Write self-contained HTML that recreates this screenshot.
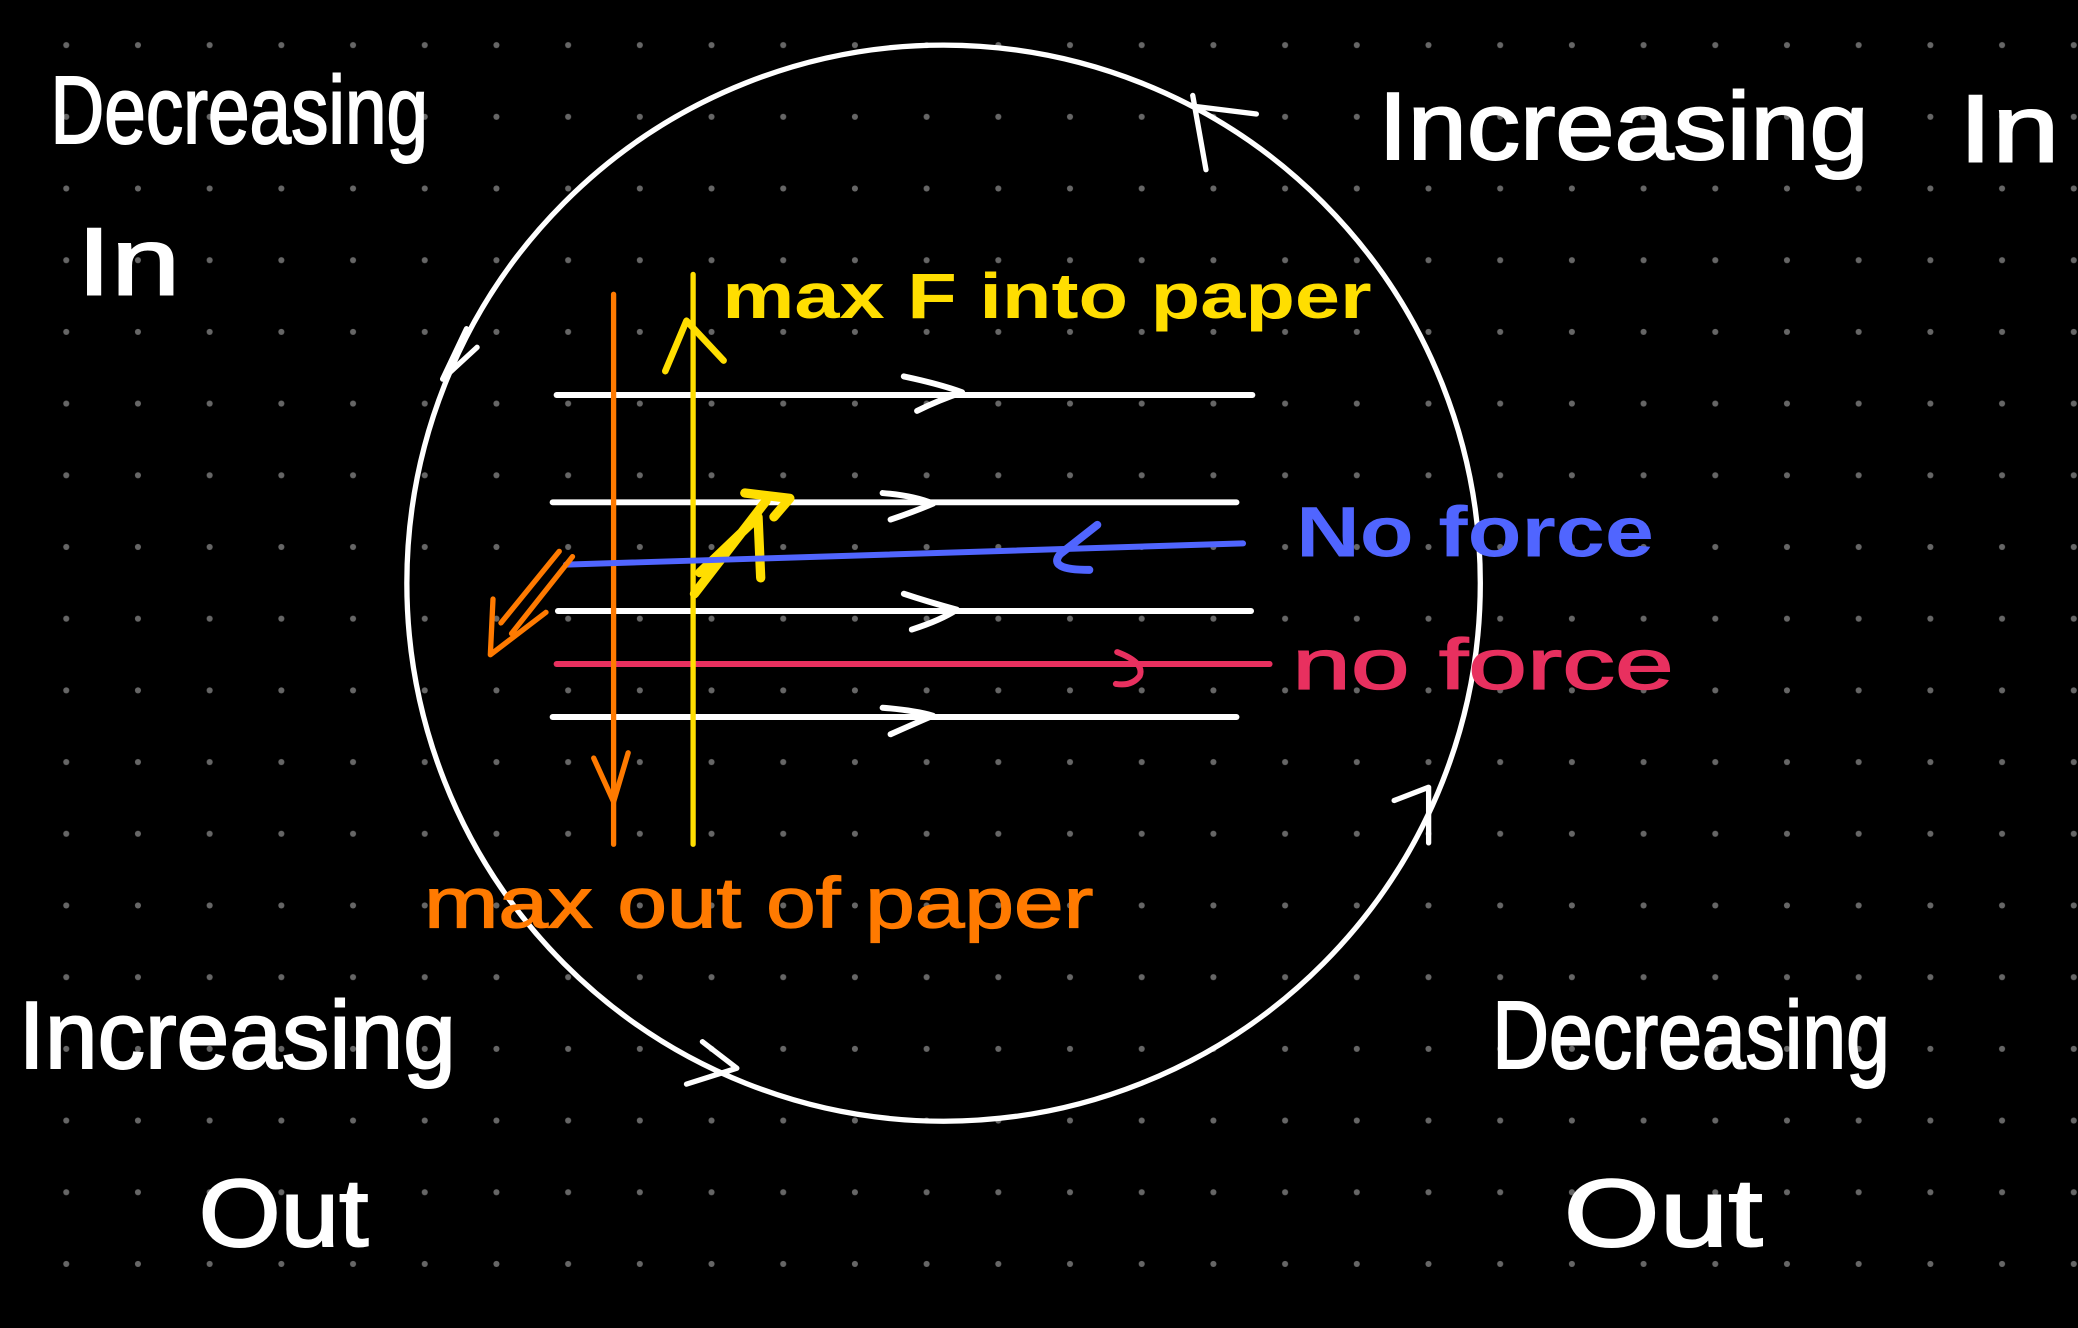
<!DOCTYPE html>
<html><head><meta charset="utf-8"><style>
html,body{margin:0;padding:0;background:#000;}
svg{display:block}
text{font-family:"Liberation Sans",sans-serif;}
</style></head><body>
<svg width="2078" height="1328" viewBox="0 0 1568 1002" xmlns="http://www.w3.org/2000/svg">
<defs><pattern id="d" x="23" y="7" width="54.1" height="54.1" patternUnits="userSpaceOnUse"><circle cx="27" cy="27" r="2.3" fill="#666"/></pattern></defs>
<rect width="1568" height="1002" fill="#000"/>
<rect width="1568" height="1002" fill="url(#d)"/>
<g fill="none" stroke-linecap="round" stroke-linejoin="round">
<ellipse cx="712" cy="440" rx="405" ry="406" stroke="#fff" stroke-width="4"/>
<path d="M900 72 L910 128 M900 80 L948 86" stroke="#fff" stroke-width="4"/>
<path d="M352 248 L334 286 L360 262" stroke="#fff" stroke-width="4"/>
<path d="M518 818 L556 806 L530 786" stroke="#fff" stroke-width="4"/>
<path d="M1052 604 L1078 594 L1078 636" stroke="#fff" stroke-width="4"/>
<g stroke="#fff" stroke-width="4.5">
<line x1="420" y1="298" x2="945" y2="298"/><path d="M682 284 Q710 290 726 296 Q708 302 692 310"/>
<line x1="417" y1="379" x2="933" y2="379"/><path d="M666 372 Q690 374 704 380 Q690 386 672 392"/>
<line x1="421" y1="461" x2="944" y2="461"/><path d="M682 448 Q700 454 722 460 Q710 468 688 475"/>
<line x1="417" y1="541" x2="933" y2="541"/><path d="M666 534 Q690 536 704 540 Q690 546 672 554"/>
</g>
<line x1="420" y1="501" x2="958" y2="501" stroke="#e8305f" stroke-width="4.5"/>
<path d="M843 492 Q864 500 860 510 Q854 518 842 516" stroke="#e8305f" stroke-width="4.5"/>
<line x1="463" y1="222" x2="463" y2="637" stroke="#ff7a00" stroke-width="4"/>
<path d="M448 572 L463 605 L474 568" stroke="#ff7a00" stroke-width="4"/>
<line x1="523" y1="207" x2="523" y2="637" stroke="#ffde00" stroke-width="4"/>
<path d="M502 280 L518 242 L546 272" stroke="#ffde00" stroke-width="5"/>
<path d="M524 448 L578 378 M528 432 L572 390 L574 436 M562 372 L596 376 L584 390" stroke="#ffde00" stroke-width="7"/>
<line x1="427" y1="426" x2="938" y2="410" stroke="#5065ff" stroke-width="4.5"/>
<path d="M828 396 L800 418 Q790 430 822 430" stroke="#5065ff" stroke-width="6"/>
<path d="M432 420 L386 478 M422 416 L378 470 M372 452 L370 494 L412 462" stroke="#ff7a00" stroke-width="4"/>
</g>
<g font-size="72" fill="#fff" stroke="#fff" stroke-width="1.5">
<text x="38" y="108" textLength="285" lengthAdjust="spacingAndGlyphs">Decreasing</text>
<text x="58" y="222" textLength="78" lengthAdjust="spacingAndGlyphs">In</text>
<text x="1040" y="120" textLength="370" lengthAdjust="spacingAndGlyphs">Increasing</text>
<text x="1478" y="122" textLength="76" lengthAdjust="spacingAndGlyphs">In</text>
<text x="14" y="806" textLength="330" lengthAdjust="spacingAndGlyphs">Increasing</text>
<text x="150" y="940" textLength="128" lengthAdjust="spacingAndGlyphs">Out</text>
<text x="1126" y="806" textLength="300" lengthAdjust="spacingAndGlyphs">Decreasing</text>
<text x="1180" y="940" textLength="150" lengthAdjust="spacingAndGlyphs">Out</text>
</g>
<text x="545" y="240" font-size="48" fill="#ffde00" font-weight="bold" textLength="490" lengthAdjust="spacingAndGlyphs">max F into paper</text>
<text x="978" y="420" font-size="54" fill="#5065ff" font-weight="bold" textLength="270" lengthAdjust="spacingAndGlyphs">No  force</text>
<text x="975" y="520" font-size="54" fill="#e8305f" stroke="#e8305f" stroke-width="1" textLength="288" lengthAdjust="spacingAndGlyphs">no  force</text>
<text x="320" y="700" font-size="54" fill="#ff7a00" stroke="#ff7a00" stroke-width="1" textLength="505" lengthAdjust="spacingAndGlyphs">max  out of paper</text>
</svg>
</body></html>
